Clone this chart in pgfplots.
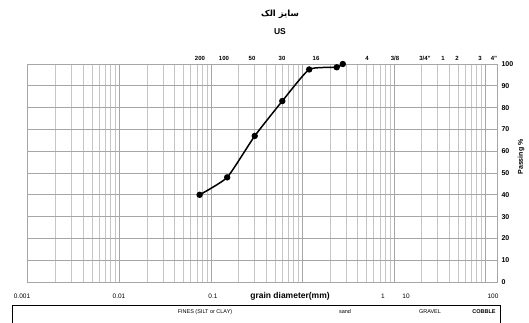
\documentclass[border=0pt]{standalone}
\usepackage{pgfplots}
\pgfplotsset{compat=1.18}
\usepackage{fontspec}
\setmainfont{Liberation Sans}
\newfontfamily\arabicfont[Script=Arabic]{DejaVu Sans}
\TeXXeTstate=1
\begin{document}
\begin{tikzpicture}[x=1pt,y=1pt]
\path[use as bounding box] (0,0) rectangle (529,322);
\begin{axis}[
 at={(28pt,40pt)}, anchor=south west,
 scale only axis, width=469pt, height=218pt,
 xmode=log, xmin=0.001, xmax=133, ymin=0, ymax=100,
 xtick={0.001,0.01,0.1,1,10,100}, xticklabels={},
 minor xtick={0.002,0.003,0.004,0.005,0.006,0.007,0.008,0.009,
              0.02,0.03,0.04,0.05,0.06,0.07,0.08,0.09,
              0.2,0.3,0.4,0.5,0.6,0.7,0.8,0.9,
              2,3,4,5,6,7,8,9,
              20,30,40,50,60,70,80,90},
 ytick={0,10,...,100}, yticklabel pos=right,
 yticklabel style={font=\bfseries\fontsize{7}{8}\selectfont, xshift=1pt},
 /pgf/number format/assume math mode=true,
 grid=both,
 major grid style={gray!70, line width=1pt},
 minor grid style={gray!45, line width=0.7pt},
 axis line style={gray!70, line width=1pt},
 tick style={draw=none},
 clip=false,
]
\addplot[black, line width=1.5pt, mark=*, mark size=2.4pt, smooth, tension=0.3]
 coordinates {(0.075,40) (0.15,48) (0.3,67) (0.6,83) (1.18,97.5) (2.36,98.5) (2.75,100)};
\end{axis}
% title
\node[font=\arabicfont\bfseries\fontsize{8.5}{9}\selectfont] at (280,308) {\beginR سایز الک\endR};
\node[font=\bfseries\fontsize{8.5}{9}\selectfont] at (280,290) {US};
% sieve labels
\begin{scope}[every node/.style={font=\bfseries\fontsize{6}{7}\selectfont, inner sep=0.5pt, fill=white}]
\node at (200,264) {200};
\node at (224,264) {100};
\node at (252,264) {50};
\node at (282,264) {30};
\node at (316,264) {16};
\node at (367,264) {4};
\node at (395,264) {3/8};
\node at (425,264) {3/4"};
\node at (443,264) {1};
\node at (457,264) {2};
\node at (480,264) {3};
\node at (494,264) {4"};
\end{scope}
% x tick labels
\begin{scope}[every node/.style={font=\fontsize{6.5}{7}\selectfont}]
\node at (22,26) {0.001};
\node at (119,26) {0.01};
\node at (213,26) {0.1};
\node at (383,26) {1};
\node at (406,26) {10};
\node at (493,26) {100};
\end{scope}
\node[font=\bfseries\fontsize{8.5}{9}\selectfont] at (290,26) {grain diameter(mm)};
\node[font=\bfseries\fontsize{7}{8}\selectfont, rotate=90] at (521,165) {Passing \%};
% soil classes box
\draw[line width=1pt] (12,-5) rectangle (500,17);
\begin{scope}[every node/.style={font=\fontsize{5.5}{6}\selectfont}]
\node at (205,10) {FINES (SILT or CLAY)};
\node at (345,10) {sand};
\node at (430,10) {GRAVEL};
\node[font=\bfseries\fontsize{5.5}{6}\selectfont] at (484,10) {COBBLE};
\end{scope}
\end{tikzpicture}
\end{document}
